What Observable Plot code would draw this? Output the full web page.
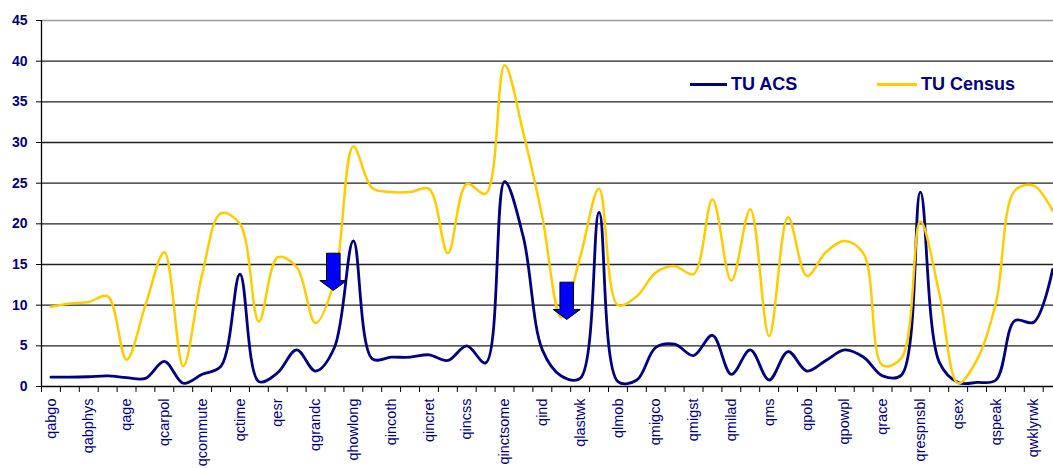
<!DOCTYPE html>
<html><head><meta charset="utf-8">
<script src="https://cdn.jsdelivr.net/npm/d3@7"></script>
<script src="https://cdn.jsdelivr.net/npm/@observablehq/plot@0.6"></script>
<style>
body{margin:0;background:#fff;}
#wrap{position:relative;width:1053px;height:469px;overflow:hidden;font-family:"Liberation Sans",Arial,sans-serif;}
.sw{position:absolute;height:3px;}
.lt{position:absolute;font-weight:bold;font-size:18px;line-height:18px;color:#000080;white-space:nowrap;}
</style></head><body><div id="wrap"></div>
<script>
// Tick labels (every other category is labelled)
const tickLabels = ["qabgo","qabphys","qage","qcarpol","qcommute","qctime","qesr","qgrandc","qhowlong",
  "qincoth","qincret","qincss","qinctsome","qind","qlastwk","qlmob","qmigco","qmigst","qmilad","qms",
  "qpob","qpowpl","qrace","qrespnsbl","qsex","qspeak","qwklyrwk"];
const seriesNames = ["TU ACS","TU Census"];
const acs = [1.15,1.15,1.2,1.3,1.1,1.0,3.1,0.4,1.5,2.5,13.8,0.6,1.7,4.5,1.9,4.8,17.9,3.4,3.6,3.6,
  3.9,3.2,5.0,2.9,25.2,18.3,4.5,1.3,1.0,21.4,0.6,0.8,4.8,5.2,3.8,6.3,1.5,4.5,0.8,4.3,
  1.9,3.2,4.5,3.6,1.3,1.4,23.9,3.0,0.5,0.5,0.8,8.1,7.9,14.4];
const census = [9.8,10.2,10.4,11.1,3.3,10.0,16.5,2.5,13.8,21.3,20.0,8.0,15.9,14.7,7.8,13.0,29.5,24.4,23.9,23.9,
  24.3,16.4,24.9,23.7,39.5,31.1,20.8,8.5,15.9,24.3,10.0,11.1,14.0,14.8,13.8,23.0,13.0,21.8,6.2,20.8,
  13.6,16.5,17.9,16.3,2.6,3.5,20.3,11.5,0.4,3.3,10.3,24.1,24.7,21.6];
const yTicks = [0,5,10,15,20,25,30,35,40,45];
// annotation arrows: tip position (category index, value)
const arrowX = [14.94, 27.29];
const arrowY = [11.8, 8.24];

const n = acs.length;
const xDomain = [-0.5, n - 0.5];
const boundaries = d3.range(-0.5, n, 1);
const labelled = d3.range(0, n, 2);
const navy = "#000080", gold = "#FFCC00";

const downArrow = {draw(ctx) {
  ctx.moveTo(0, 0); ctx.lineTo(-13.5, -10); ctx.lineTo(-6.8, -10); ctx.lineTo(-6.8, -37.3);
  ctx.lineTo(6.8, -37.3); ctx.lineTo(6.8, -10); ctx.lineTo(13.5, -10); ctx.closePath();
}};

const chart = Plot.plot({
  width: 1053, height: 469,
  marginLeft: 41, marginRight: 0, marginTop: 20, marginBottom: 83,
  style: {fontFamily: "'Liberation Sans', Arial, sans-serif", background: "#fff"},
  x: {type: "linear", domain: xDomain, range: [41, 41 + n * 18.9]},
  y: {domain: [0, 45]},
  marks: [
    Plot.gridY(yTicks.filter(t => t > 0 && t < 45), {stroke: "#222", strokeOpacity: 1, strokeWidth: 1.3}),
    Plot.ruleY([45], {stroke: "#999", strokeWidth: 1.3}),
    Plot.ruleY([0], {stroke: "#000", strokeWidth: 1.3}),
    Plot.ruleX([xDomain[0]], {stroke: "#000", strokeWidth: 1.3}),
    Plot.axisY(yTicks, {tickSize: 5, tickPadding: 9, fontSize: 14, fontWeight: "bold", fill: navy, stroke: "#000", label: null}),
    Plot.axisX(boundaries, {tickSize: 6, tickFormat: () => "", stroke: "#000", label: null}),
    Plot.axisX(labelled, {tickSize: 0, tickPadding: 12, tickRotate: -90, fontSize: 14.5, fill: navy,
      tickFormat: i => tickLabels[i / 2], label: null}),
    Plot.line(acs, {x: (d, i) => i, y: d => d, curve: "catmull-rom", stroke: navy, strokeWidth: 2.8}),
    Plot.line(census, {x: (d, i) => i, y: d => d, curve: "catmull-rom", stroke: gold, strokeWidth: 2.5}),
    Plot.dot(arrowX, {x: d => d, y: (d, i) => arrowY[i], symbol: downArrow, r: 10,
      fill: "#0000FF", stroke: "#000", strokeWidth: 1})
  ]
});
const wrap = document.getElementById("wrap");
wrap.appendChild(chart);

// legend inside the plot area
const legendColors = [navy, gold];
const legendPos = [{line: 690, len: 37, text: 731}, {line: 877, len: 40, text: 921}];
seriesNames.forEach((name, k) => {
  const sw = document.createElement("div");
  sw.className = "sw";
  sw.style.left = legendPos[k].line + "px"; sw.style.width = legendPos[k].len + "px";
  sw.style.top = "83px"; sw.style.background = legendColors[k];
  wrap.appendChild(sw);
  const t = document.createElement("div");
  t.className = "lt"; t.textContent = name;
  t.style.left = legendPos[k].text + "px"; t.style.top = "75px";
  wrap.appendChild(t);
});
</script></body></html>
